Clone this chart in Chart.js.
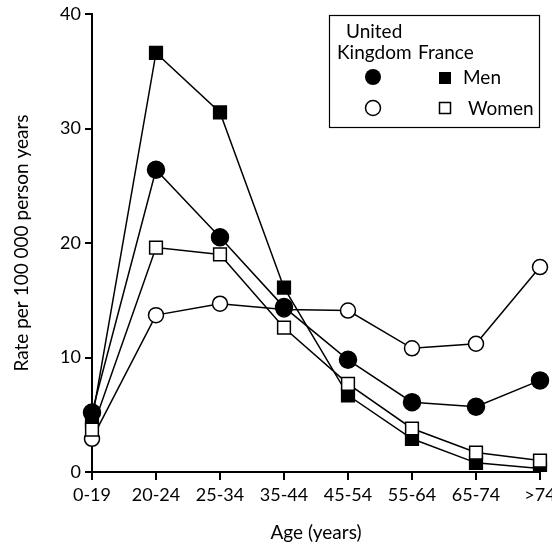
<!DOCTYPE html>
<html>
<head>
<meta charset="utf-8">
<script src="https://cdn.jsdelivr.net/npm/chart.js@4"></script>
<style>
  html, body { margin: 0; padding: 0; background: #fff; }
  canvas { display: block; }
</style>
</head>
<body>
<canvas id="chart" width="552" height="544"></canvas>
<script>
// age groups and rates per 100 000 person years
const ageGroups = ["0-19", "20-24", "25-34", "35-44", "45-54", "55-64", "65-74", ">74"]
const ukMen = [5.2, 26.4, 20.5, 14.4, 9.8, 6.1, 5.7, 8.0]
const ukWomen = [2.9, 13.7, 14.7, 14.2, 14.1, 10.8, 11.2, 17.9]
const franceMen = [4.5, 36.6, 31.4, 16.1, 6.7, 2.9, 0.8, 0.3]
const franceWomen = [3.7, 19.6, 19.0, 12.6, 7.7, 3.8, 1.7, 1.0]
const yTicks = [0, 10, 20, 30, 40]

const FONT = "Lato, 'Open Sans', sans-serif"

// legend box drawn by hand, like the printed figure
const boxLegend = {
  id: "boxLegend",
  afterDraw(chart) {
    const ctx = chart.ctx
    ctx.save()
    ctx.strokeStyle = "#000"
    ctx.lineWidth = 1.2
    ctx.strokeRect(329.5, 15.5, 210, 112)

    ctx.fillStyle = "#000"
    ctx.font = "19px " + FONT
    ctx.textBaseline = "alphabetic"
    ctx.fillText("United", 346, 38)
    ctx.fillText("Kingdom", 337, 59)
    ctx.fillText("France", 418, 59)
    ctx.fillText("Men", 463, 84)
    ctx.fillText("Women", 468, 115)

    ctx.lineWidth = 1.5
    ctx.beginPath()
    ctx.arc(373, 77, 8, 0, Math.PI * 2)
    ctx.fill()
    ctx.beginPath()
    ctx.arc(373, 108, 7.5, 0, Math.PI * 2)
    ctx.fillStyle = "#fff"
    ctx.fill()
    ctx.stroke()
    ctx.fillStyle = "#000"
    ctx.fillRect(439, 72, 12, 12)
    ctx.strokeRect(439.5, 102.5, 11, 11)
    ctx.restore()
  }
}

function series(label, data, style, filled, radius) {
  return {
    label: label,
    data: data,
    borderColor: "#000",
    borderWidth: 1.5,
    pointStyle: style,
    pointRadius: radius,
    pointHoverRadius: radius,
    pointBackgroundColor: filled ? "#000" : "#fff",
    pointBorderColor: "#000",
    pointBorderWidth: 1.5,
    tension: 0,
    fill: false
  }
}

new Chart(document.getElementById("chart"), {
  type: "line",
  data: {
    labels: ageGroups,
    datasets: [
      series("United Kingdom men", ukMen, "circle", true, 8.5),
      series("France women", franceWomen, "rect", false, 9),
      series("France men", franceMen, "rect", true, 9),
      series("United Kingdom women", ukWomen, "circle", false, 7.5)
    ]
  },
  options: {
    responsive: false,
    animation: false,
    maintainAspectRatio: false,
    layout: { padding: { left: 8, top: 14, right: 12, bottom: 0 } },
    plugins: {
      legend: { display: false },
      tooltip: { enabled: false }
    },
    scales: {
      x: {
        type: "category",
        offset: false,
        grid: {
          drawOnChartArea: false,
          drawTicks: true,
          tickLength: 8,
          color: "#000",
          lineWidth: 2
        },
        border: { display: true, color: "#000", width: 2 },
        ticks: {
          color: "#000",
          font: { family: FONT, size: 18 },
          padding: 4,
          maxRotation: 0,
          autoSkip: false
        },
        title: {
          display: true,
          text: "Age (years)",
          color: "#000",
          font: { family: FONT, size: 19 },
          padding: { top: 6, bottom: 0 }
        },
        afterFit(scale) {
          scale.height = 72
          scale.paddingLeft = 0
          scale.paddingRight = 0
        }
      },
      y: {
        min: 0,
        max: 40,
        afterBuildTicks(scale) {
          scale.ticks = yTicks.map(v => ({ value: v }))
        },
        grid: {
          drawOnChartArea: false,
          drawTicks: true,
          tickLength: 7,
          color: "#000",
          lineWidth: 2
        },
        border: { display: true, color: "#000", width: 2 },
        ticks: {
          color: "#000",
          font: { family: FONT, size: 18 },
          padding: 4
        },
        title: {
          display: true,
          text: "Rate per 100 000 person years",
          color: "#000",
          font: { family: FONT, size: 19 },
          padding: { top: 2, bottom: 4 }
        },
        afterFit(scale) {
          scale.width = 84
          scale.paddingTop = 0
          scale.paddingBottom = 0
        }
      }
    }
  },
  plugins: [boxLegend]
})
</script>
</body>
</html>
